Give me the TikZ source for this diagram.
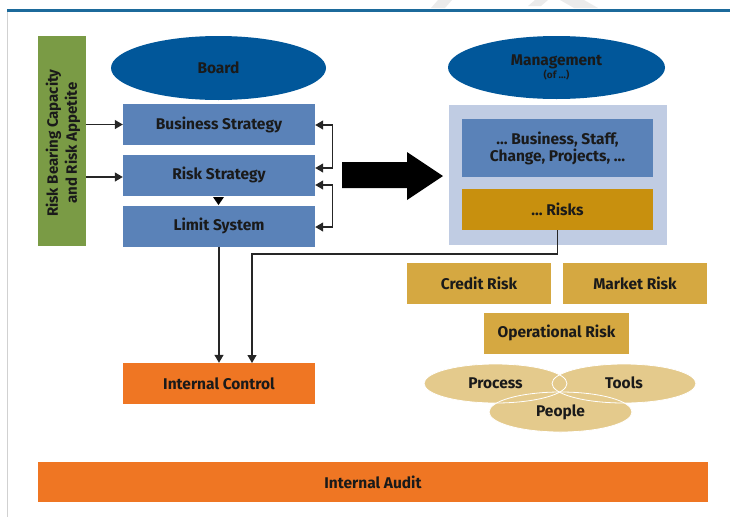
\documentclass[tikz,border=0pt]{standalone}
\usepackage{fontspec}
\setmainfont{Fira Sans}
\usetikzlibrary{shapes.geometric,arrows.meta}
\definecolor{topline}{HTML}{1C6A9B}
\definecolor{boxblue}{HTML}{5A82B8}
\definecolor{darkblue}{HTML}{01579A}
\definecolor{greenbox}{HTML}{7A9B45}
\definecolor{lightbox}{HTML}{C0CCE3}
\definecolor{goldrisk}{HTML}{C8900E}
\definecolor{goldbox}{HTML}{D5A841}
\definecolor{venn}{HTML}{E4CA8C}
\definecolor{orangebox}{HTML}{EF7623}
\definecolor{txt}{HTML}{1A1A1A}
\tikzset{
  base/.style={inner sep=0pt, font=\bfseries\fontsize{15.5}{17}\selectfont, text=txt, align=center},
  bluebox/.style={base, rectangle, fill=boxblue, minimum width=192pt, minimum height=41pt},
  ellblue/.style={base, ellipse, fill=darkblue},
  goldrect/.style={base, rectangle, fill=goldbox, minimum width=144pt, minimum height=41pt},
  vennell/.style={base, ellipse, fill=venn, minimum width=143pt, minimum height=39pt},
  orangerect/.style={base, rectangle, fill=orangebox, minimum height=41pt},
  conn/.style={draw=black!85, line width=1.2pt},
  tip/.style={-{Triangle[width=9pt,length=8pt]}},
  tips/.style={{Triangle[width=9pt,length=8pt]}-{Triangle[width=9pt,length=8pt]}},
}
\begin{document}
\begin{tikzpicture}[x=1pt,y=-1pt]
\useasboundingbox (0,0) rectangle (730,517);
% watermark
\fill[black!8] (438,0) -- (452,0) -- (445,8) -- (431,8) -- cycle;
\fill[black!8] (560,0) -- (584,0) -- (598,8) -- (574,8) -- cycle;
\fill[black!8] (535,0) -- (548,0) -- (541,6) -- (528,6) -- cycle;
% frame lines
\draw[black!18, line width=0.8pt] (7,10) -- (7,517);
\draw[topline, line width=3pt] (7,10) -- (730,10);

% left column
\node[base, fill=greenbox, minimum width=48pt, minimum height=210pt] (rbc) at (62,141) {};
\node[base, rotate=90, font=\bfseries\fontsize{15}{19}\selectfont] (rbct) at (63,143) {Risk Bearing Capacity\\and Risk Appetite};
\node[ellblue, minimum width=215pt, minimum height=64pt] (board) at (218.5,68) {Board};
\node[bluebox] (bs) at (219,124.5) {Business Strategy};
\node[bluebox] (rs) at (219,175) {Risk Strategy};
\node[bluebox] (ls) at (219,226) {Limit System};

\draw[conn, tip] (rbc.east |- bs.west) -- (bs.west);
\draw[conn, tip] ([yshift=-2pt]rbc.east |- rs.west) -- ([yshift=-2pt]rs.west);
\draw[tips, conn] ([yshift=-0.5pt]bs.east) -- ++(17,0) |- ([yshift=7pt]rs.east);
\draw[tips, conn] ([yshift=-10pt]rs.east) -- ++(17,0) |- ([yshift=-1pt]ls.east);
\fill[black] (213,197) -- (224,197) -- (218.5,205) -- cycle;

% big arrow
\fill[black] (342,162) -- (407,162) -- (407,152) -- (443,176) -- (407,200) -- (407,188) -- (342,188) -- cycle;

% right column
\node[ellblue, minimum width=217pt, minimum height=63pt] (mgmt) at (556.5,67.5) {Management\\[-4pt]{\fontsize{10}{11}\selectfont (of \ldots)}};
\node[base, fill=lightbox, minimum width=218pt, minimum height=140pt] (cont) at (558,175) {};
\node[base, fill=boxblue, minimum width=191pt, minimum height=58pt] (bus) at (557.5,148) {\ldots\ Business, Staff,\\Change, Projects, \ldots};
\node[base, fill=goldrisk, minimum width=191pt, minimum height=41pt] (risks) at (557.5,209.5) {\ldots\ Risks};

\node[goldrect] (cr) at (479,283.5) {Credit Risk};
\node[goldrect] (mr) at (635,283.5) {Market Risk};
\node[goldrect, minimum width=145pt] (opr) at (556.5,333) {Operational Risk};

\node[vennell] (proc) at (495.5,383.5) {};
\node[vennell, minimum width=144pt] (tools) at (624,383.5) {};
\node[vennell, minimum height=40pt] (people) at (560.5,412) {};
\draw[white, line width=0.8pt] (proc.center) ellipse [x radius=71.5, y radius=19.5];
\draw[white, line width=0.8pt] (tools.center) ellipse [x radius=72, y radius=19.5];
\draw[white, line width=0.8pt] (people.center) ellipse [x radius=71.5, y radius=20];
\node[base] at (495.5,383) {Process};
\node[base] at (624,383) {Tools};
\node[base] at (560.5,412) {People};

% bottom
\node[orangerect, minimum width=192pt] (ic) at (219,383.5) {Internal Control};
\node[orangerect, minimum width=670pt, minimum height=40pt] (ia) at (373,482) {Internal Audit};

\draw[conn, tip] (ls.south) -- (ic.north -| ls.south);
\draw[conn, tip] (risks.south) |- (252,254) -- (252,363);
\end{tikzpicture}
\end{document}
